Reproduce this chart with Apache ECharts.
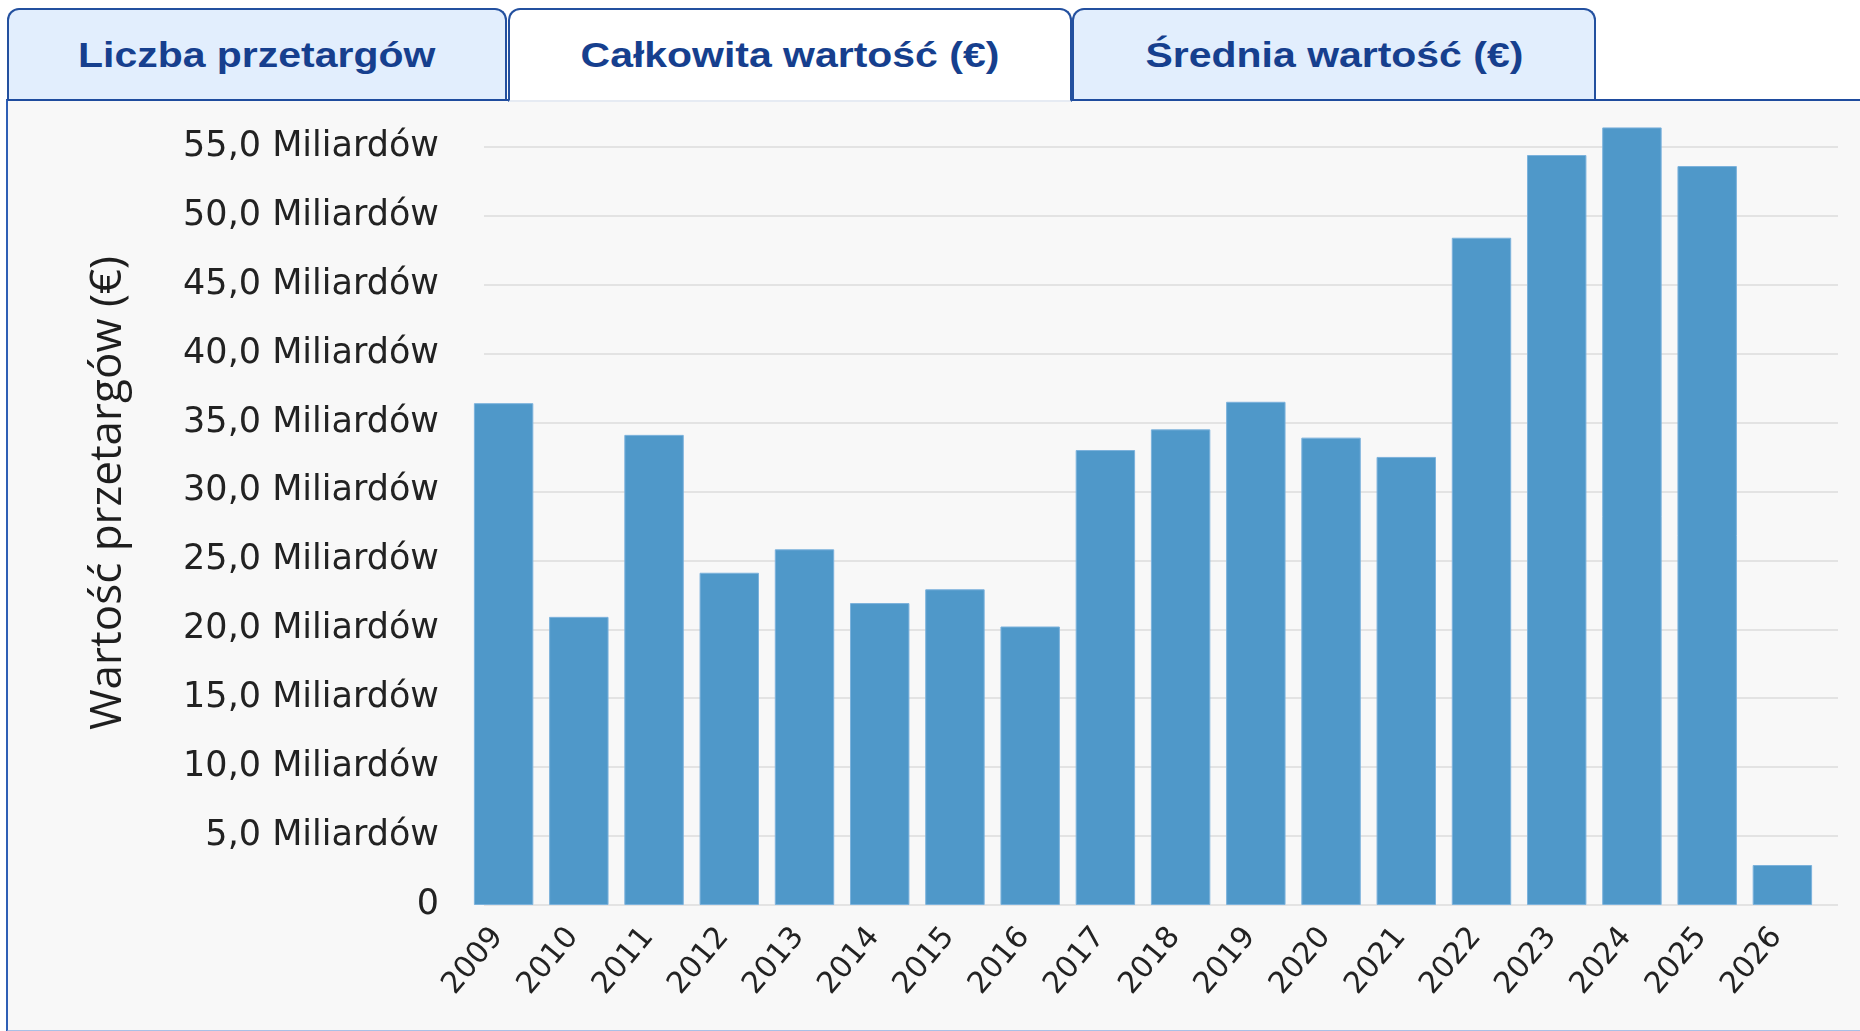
<!DOCTYPE html>
<html lang="pl">
<head>
<meta charset="utf-8">
<title>Całkowita wartość (€)</title>
<script src="https://cdn.jsdelivr.net/npm/echarts@6/dist/echarts.min.js"></script>
<style>
  html, body {
    margin: 0;
    padding: 0;
    width: 1860px;
    height: 1031px;
    background: #ffffff;
    overflow: hidden;
  }
  .panel {
    position: absolute;
    left: 6px;
    top: 99px;
    width: 1860px;
    height: 929px;
    background: #f8f8f8;
    border-left: 2px solid #2f5fb5;
    border-top: 2px solid #1f4c9e;
    border-bottom: 2px solid #a9c0e6;
  }
  .tab {
    position: absolute;
    top: 8px;
    height: 91px;
    box-sizing: border-box;
    border: 2px solid #23509f;
    border-bottom: none;
    border-radius: 12px 12px 0 0;
    background: #e2eefd;
    color: #163f8e;
    font-family: "Liberation Sans", Arial, sans-serif;
    font-weight: bold;
    font-size: 35px;
    line-height: 90px;
    text-align: center;
    z-index: 2;
  }
  .tab span {
    display: inline-block;
    transform: scaleX(1.17);
  }
  .tab.active {
    background: #ffffff;
    height: 94px;
    border-bottom: 2px solid #e6ebf3;
  }
  #chart {
    position: absolute;
    left: 0;
    top: 0;
    width: 1860px;
    height: 1031px;
    z-index: 3;
  }
</style>
</head>
<body>
  <div class="panel"></div>
  <div class="tab" style="left: 7px; width: 500px;"><span>Liczba przetargów</span></div>
  <div class="tab active" style="left: 508px; width: 564px;"><span>Całkowita wartość (€)</span></div>
  <div class="tab" style="left: 1072px; width: 524px;"><span>Średnia wartość (€)</span></div>
  <div id="chart"></div>

<script>
  // lata (kategorie)
  var years = ['2009', '2010', '2011', '2012', '2013', '2014', '2015', '2016', '2017',
    '2018', '2019', '2020', '2021', '2022', '2023', '2024', '2025', '2026']
  // całkowita wartość przetargów, w miliardach €
  var totalValue = [36.4, 20.9, 34.1, 24.1, 25.8, 21.9, 22.9, 20.2, 33.0,
    34.5, 36.5, 33.9, 32.5, 48.4, 54.4, 56.4, 53.6, 2.9]
  // etykiety osi Y (co 5 mld)
  var yTicks = [0, 5, 10, 15, 20, 25, 30, 35, 40, 45, 50, 55]
  var yTickLabels = ['0', '5,0 Miliardów', '10,0 Miliardów', '15,0 Miliardów', '20,0 Miliardów',
    '25,0 Miliardów', '30,0 Miliardów', '35,0 Miliardów', '40,0 Miliardów', '45,0 Miliardów',
    '50,0 Miliardów', '55,0 Miliardów']
  var yAxisTitle = 'Wartość przetargów (€)'

  var tickFont = '"DejaVu Sans", sans-serif'
  var chart = echarts.init(document.getElementById('chart'), null, { renderer: 'canvas' })

  var option = {
    backgroundColor: 'transparent',
    animation: false,
    grid: [
      // słupki
      { left: 466, right: 40, top: 77.8, bottom: 126 },
      // siatka + etykiety osi Y
      { left: 484, right: 22, top: 146.7, bottom: 126 },
    ],
    xAxis: [
      {
        type: 'category',
        gridIndex: 0,
        data: years,
        axisLine: { show: false },
        axisTick: { show: false },
        axisLabel: {
          rotate: 50,
          margin: 20,
          padding: [0, 9, 0, 0],
          fontFamily: tickFont,
          fontSize: 30,
          color: '#222222',
        },
      },
      {
        type: 'category',
        gridIndex: 1,
        data: years,
        show: false,
      },
    ],
    yAxis: [
      {
        type: 'value',
        gridIndex: 0,
        min: 0,
        max: 60,
        show: false,
      },
      {
        type: 'value',
        gridIndex: 1,
        min: yTicks[0],
        max: yTicks[yTicks.length - 1],
        interval: 5,
        axisLine: { show: false },
        axisTick: { show: false },
        splitLine: {
          lineStyle: { color: '#e3e3e3', width: 2 },
        },
        axisLabel: {
          margin: 45,
          fontFamily: tickFont,
          fontSize: 35,
          color: '#222222',
          formatter: function (v) {
            var i = yTicks.indexOf(v)
            return i >= 0 ? yTickLabels[i] : ''
          },
        },
      },
    ],
    series: [
      {
        type: 'bar',
        xAxisIndex: 0,
        yAxisIndex: 0,
        data: totalValue,
        barCategoryGap: '21%',
        itemStyle: {
          color: '#4f98c9',
          borderColor: '#7cb2dc',
          borderWidth: 1,
        },
        z: 3,
      },
    ],
    graphic: [
      {
        type: 'text',
        x: 108,
        y: 493,
        rotation: Math.PI / 2,
        style: {
          text: yAxisTitle,
          font: '44px "Open Sans", sans-serif',
          fill: '#1e1e1e',
          align: 'center',
          verticalAlign: 'middle',
        },
      },
    ],
  }

  chart.setOption(option)
</script>
</body>
</html>
